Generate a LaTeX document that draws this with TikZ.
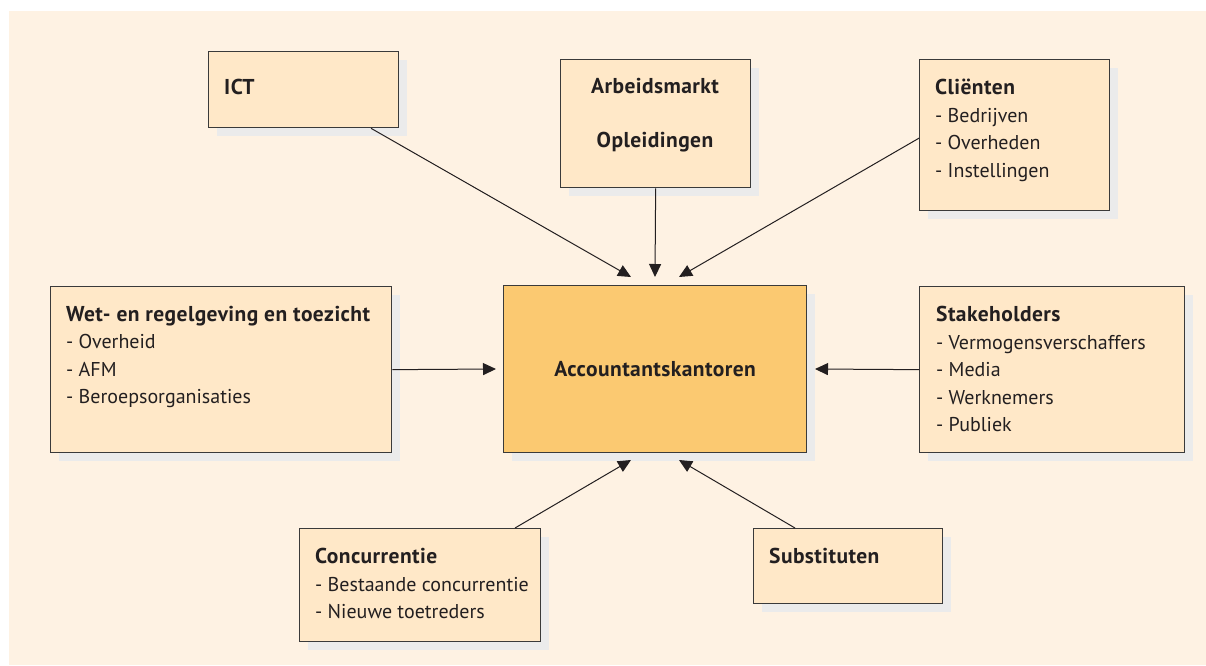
\documentclass[tikz,border=0pt]{standalone}
\usepackage{fontspec}
\setmainfont{PT Sans}[BoldFeatures={LetterSpace=2}]
\usetikzlibrary{arrows.meta,shadows,calc}
\definecolor{bgcream}{HTML}{FEF2E3}
\definecolor{boxfill}{HTML}{FFE8C8}
\definecolor{corefill}{HTML}{FBC971}
\definecolor{shadowgray}{HTML}{EBEBEB}
\definecolor{edge}{HTML}{3A3A3A}
\definecolor{ink}{HTML}{231F20}
\newcommand\hd[1]{{\fontsize{21.5}{27.5}\selectfont\bfseries #1}}
\tikzset{
  panel/.style={draw=edge, line width=1.3pt, fill=boxfill, anchor=north west, inner sep=0pt,
    drop shadow={shadow xshift=8pt, shadow yshift=-8pt, fill=shadowgray, opacity=1}},
  core/.style={panel, fill=corefill},
  txt/.style={anchor=north west, inner sep=0pt, align=left, text=ink,
    font=\fontsize{20}{27.5}\selectfont},
  ctxt/.style={txt, anchor=center, align=center},
  link/.style={draw=ink, line width=1pt, -{Triangle[length=13pt,width=12pt]}}
}
\begin{document}
\begin{tikzpicture}[x=1pt,y=-1pt]
\useasboundingbox (0,0) rectangle (1206,665);
\fill[white] (0,0) rectangle (1206,665);
\fill[bgcream] (9,11) rectangle (1206,665);

% boxes
\node[panel, minimum width=190pt, minimum height=76pt] (ict) at (208,51) {};
\node[panel, minimum width=190pt, minimum height=128pt] (arb) at (560,59) {};
\node[panel, minimum width=190pt, minimum height=151pt] (cli) at (919,59) {};
\node[panel, minimum width=341pt, minimum height=166pt] (wet) at (50,286) {};
\node[core, minimum width=303pt, minimum height=167pt] (acc) at (503,285) {};
\node[panel, minimum width=265pt, minimum height=166pt] (stk) at (919,286) {};
\node[panel, minimum width=241pt, minimum height=113pt] (con) at (299,528) {};
\node[panel, minimum width=189pt, minimum height=75pt] (sub) at (753,528) {};

% texts
\node[txt] (ictT) at ([xshift=16pt,yshift=-28pt]ict.north west) {\hd{ICT}};
\node[ctxt] (arbT1) at (655,86) {\hd{Arbeidsmarkt}};
\node[ctxt] (arbT2) at (655,142) {\hd{Opleidingen}};
\node[txt] (cliT) at ([xshift=16pt,yshift=-20pt]cli.north west) {\hd{Cliënten}\\- Bedrijven\\- Overheden\\- Instellingen};
\node[txt] (wetT) at ([xshift=16pt,yshift=-20pt]wet.north west) {\hd{Wet- en regelgeving en toezicht}\\- Overheid\\- AFM\\- Beroepsorganisaties};
\node[ctxt] (accT) at (acc.center) {\hd{Accountantskantoren}};
\node[txt] (stkT) at ([xshift=17pt,yshift=-20pt]stk.north west) {\hd{Stakeholders}\\- Vermogensverschaffers\\- Media\\- Werknemers\\- Publiek};
\node[txt] (conT) at ([xshift=16pt,yshift=-20pt]con.north west) {\hd{Concurrentie}\\- Bestaande concurrentie\\- Nieuwe toetreders};
\node[txt] (subT) at ([xshift=16pt,yshift=-20pt]sub.north west) {\hd{Substituten}};

% arrow tips
\coordinate (tA) at (631,277);
\coordinate (tB) at (655,277);
\coordinate (tC) at (679,277);
\coordinate (tD) at (496,369);
\coordinate (tE) at (815,369);
\coordinate (tF) at (631,460);
\coordinate (tG) at (679,460);

\draw[link] ([xshift=163pt]ict.south west) -- (tA);
\draw[link] (arb.south) -- (tB);
\draw[link] ([yshift=-3pt]cli.west) -- (tC);
\draw[link] (wet.east) -- (tD);
\draw[link] (stk.west) -- (tE);
\draw[link] ([xshift=216pt]con.north west) -- (tF);
\draw[link] ([xshift=42pt]sub.north west) -- (tG);
\end{tikzpicture}
\end{document}
